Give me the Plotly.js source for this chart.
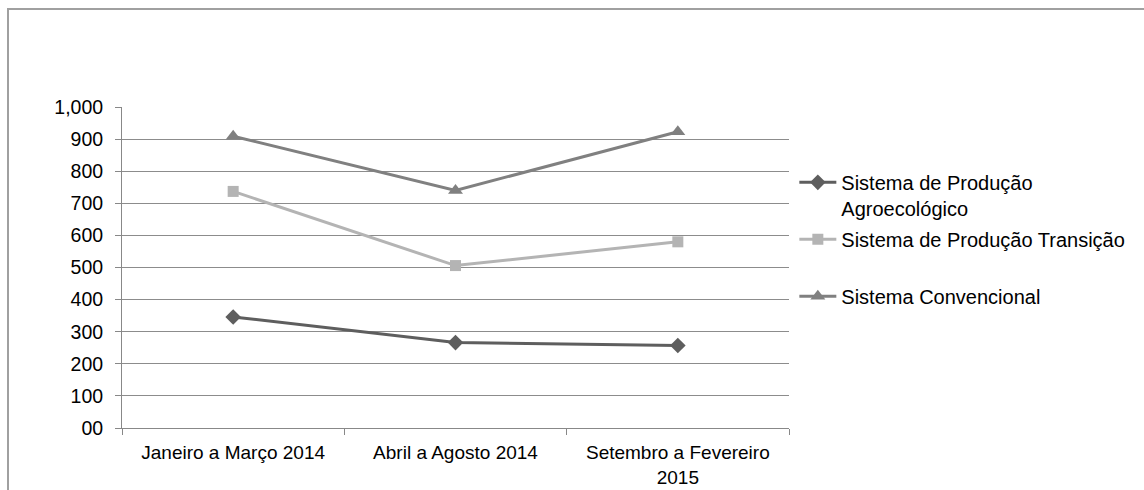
<!DOCTYPE html>
<html>
<head>
<meta charset="utf-8">
<script src="https://cdn.plot.ly/plotly-3.0.1.min.js"></script>
<style>
html,body{margin:0;padding:0;background:#fff;overflow:hidden;}
#frame{position:absolute;left:7px;top:8px;width:2000px;height:2000px;border-left:2px solid #a0a0a0;border-top:2px solid #a0a0a0;}
#chart{position:absolute;left:0;top:0;width:1144px;height:490px;}
</style>
</head>
<body>
<div id="frame"></div>
<div id="chart"></div>
<script>
const categories = ["Janeiro a Março 2014", "Abril a Agosto 2014", "Setembro a Fevereiro<br>2015"];
const seriesNames = ["Sistema de Produção<br>Agroecológico", "Sistema de Produção Transição<br> ", "Sistema Convencional"];
const agroecologico = [346, 266, 257];
const transicao = [737, 506, 580];
const convencional = [909, 740, 923];
const yTickVals = [0, 100, 200, 300, 400, 500, 600, 700, 800, 900, 1000];
const yTickText = ["00", "100", "200", "300", "400", "500", "600", "700", "800", "900", "1,000"];

const traces = [
  {x: categories, y: agroecologico, name: seriesNames[0], type: 'scatter', mode: 'lines+markers',
   line: {color: '#5e5e5e', width: 3}, marker: {symbol: 'diamond', size: 12, color: '#5e5e5e'}, legendgroup: 'a'},
  {x: categories, y: transicao, name: seriesNames[1], type: 'scatter', mode: 'lines+markers',
   line: {color: '#b4b4b4', width: 3}, marker: {symbol: 'square', size: 11, color: '#b4b4b4'}, legendgroup: 'b'},
  {x: categories, y: convencional, name: seriesNames[2], type: 'scatter', mode: 'lines+markers',
   line: {color: '#808080', width: 3}, marker: {symbol: 'triangle-up', size: 13, color: '#808080'}, legendgroup: 'c'}
];

const layout = {
  width: 1144, height: 490,
  margin: {l: 122, r: 355, t: 107, b: 62},
  paper_bgcolor: 'rgba(0,0,0,0)',
  plot_bgcolor: 'rgba(0,0,0,0)',
  font: {family: 'Liberation Sans, Arial, sans-serif', size: 20, color: '#000'},
  showlegend: true,
  legend: {x: 1.008, xanchor: 'left', y: 0.826, yanchor: 'top', valign: 'top',
           font: {size: 20, color: '#000'}, tracegroupgap: 2, itemwidth: 37, bgcolor: 'rgba(0,0,0,0)'},
  xaxis: {type: 'category', range: [-0.5, 2.5], showgrid: false, showline: true, linecolor: '#888', linewidth: 1,
          ticks: 'outside', tickson: 'boundaries', ticklen: 6, tickcolor: '#888', zeroline: false,
          ticklabelstandoff: 7, tickfont: {size: 19}, fixedrange: true},
  yaxis: {range: [0, 1000], tickvals: yTickVals, ticktext: yTickText, showgrid: true, gridcolor: '#8c8c8c', gridwidth: 1,
          showline: true, linecolor: '#888', linewidth: 1, ticks: 'outside', ticklen: 6, tickcolor: '#888',
          zeroline: false, ticklabelstandoff: 8, tickfont: {size: 19.5}, fixedrange: true}
};

Plotly.newPlot('chart', traces, layout, {displayModeBar: false, staticPlot: true});
</script>
</body>
</html>
